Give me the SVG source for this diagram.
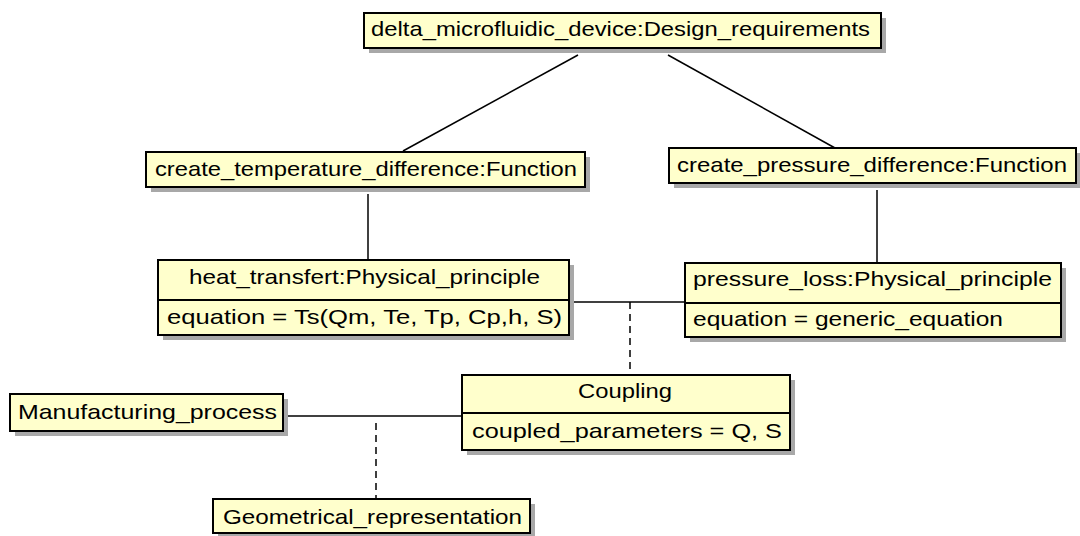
<svg xmlns="http://www.w3.org/2000/svg" width="1080" height="536" viewBox="0 0 1080 536">
<style>
.sh{fill:#a8a8a8}
.bx{fill:#ffffcc;stroke:#000;stroke-width:2}
.dv{stroke:#000;stroke-width:2}
.t{font-family:"Liberation Sans",Arial,sans-serif;font-size:21px;fill:#000}
.c{stroke:#000;stroke-width:1.5;fill:none}
.d{stroke:#000;stroke-width:1.5;fill:none;stroke-dasharray:7 5}
</style>
<rect width="1080" height="536" fill="#fff"/>
<g id="connectors">
<line class="c" x1="578" y1="55" x2="403" y2="151"/>
<line class="c" x1="668" y1="55" x2="835" y2="148"/>
<line class="c" x1="368" y1="194" x2="368" y2="260"/>
<line class="c" x1="877" y1="190" x2="877" y2="263"/>
<line class="c" x1="574" y1="302" x2="685" y2="302"/>
<line class="d" x1="630" y1="302" x2="630" y2="375"/>
<line class="c" x1="288" y1="416" x2="462" y2="416"/>
<line class="d" x1="376" y1="423" x2="376" y2="499"/>
</g>
<g id="design_requirements">
<rect class="sh" x="369" y="18" width="517" height="35"/>
<rect class="bx" x="364" y="13" width="517" height="35"/>
<text class="t" x="371" y="36" textLength="499" lengthAdjust="spacingAndGlyphs">delta_microfluidic_device:Design_requirements</text>
</g>
<g id="create_temperature_difference">
<rect class="sh" x="151" y="157" width="439" height="35"/>
<rect class="bx" x="146" y="152" width="439" height="35"/>
<text class="t" x="155" y="176" textLength="422" lengthAdjust="spacingAndGlyphs">create_temperature_difference:Function</text>
</g>
<g id="create_pressure_difference">
<rect class="sh" x="674" y="153" width="407" height="35"/>
<rect class="bx" x="669" y="148" width="407" height="35"/>
<text class="t" x="677" y="172" textLength="390" lengthAdjust="spacingAndGlyphs">create_pressure_difference:Function</text>
</g>
<g id="heat_transfert">
<rect class="sh" x="163" y="265" width="411" height="75"/>
<rect class="bx" x="158" y="260" width="411" height="75"/>
<line class="dv" x1="158" y1="300" x2="569" y2="300"/>
<text class="t" x="189" y="284" textLength="351" lengthAdjust="spacingAndGlyphs">heat_transfert:Physical_principle</text>
<text class="t" x="167" y="324" textLength="395" lengthAdjust="spacingAndGlyphs">equation = Ts(Qm, Te, Tp, Cp,h, S)</text>
</g>
<g id="pressure_loss">
<rect class="sh" x="690" y="268" width="376" height="74"/>
<rect class="bx" x="685" y="263" width="376" height="74"/>
<line class="dv" x1="685" y1="303" x2="1061" y2="303"/>
<text class="t" x="693" y="286" textLength="359" lengthAdjust="spacingAndGlyphs">pressure_loss:Physical_principle</text>
<text class="t" x="693" y="326" textLength="310" lengthAdjust="spacingAndGlyphs">equation = generic_equation</text>
</g>
<g id="coupling">
<rect class="sh" x="467" y="380" width="328" height="75"/>
<rect class="bx" x="462" y="375" width="328" height="75"/>
<line class="dv" x1="462" y1="413" x2="790" y2="413"/>
<text class="t" x="578" y="398" textLength="94" lengthAdjust="spacingAndGlyphs">Coupling</text>
<text class="t" x="472" y="438" textLength="310" lengthAdjust="spacingAndGlyphs">coupled_parameters = Q, S</text>
</g>
<g id="manufacturing_process">
<rect class="sh" x="15" y="399" width="273" height="37"/>
<rect class="bx" x="10" y="394" width="273" height="37"/>
<text class="t" x="18" y="419" textLength="259" lengthAdjust="spacingAndGlyphs">Manufacturing_process</text>
</g>
<g id="geometrical_representation">
<rect class="sh" x="218" y="504" width="317" height="34"/>
<rect class="bx" x="213" y="499" width="317" height="34"/>
<text class="t" x="223" y="524" textLength="299" lengthAdjust="spacingAndGlyphs">Geometrical_representation</text>
</g>
</svg>
